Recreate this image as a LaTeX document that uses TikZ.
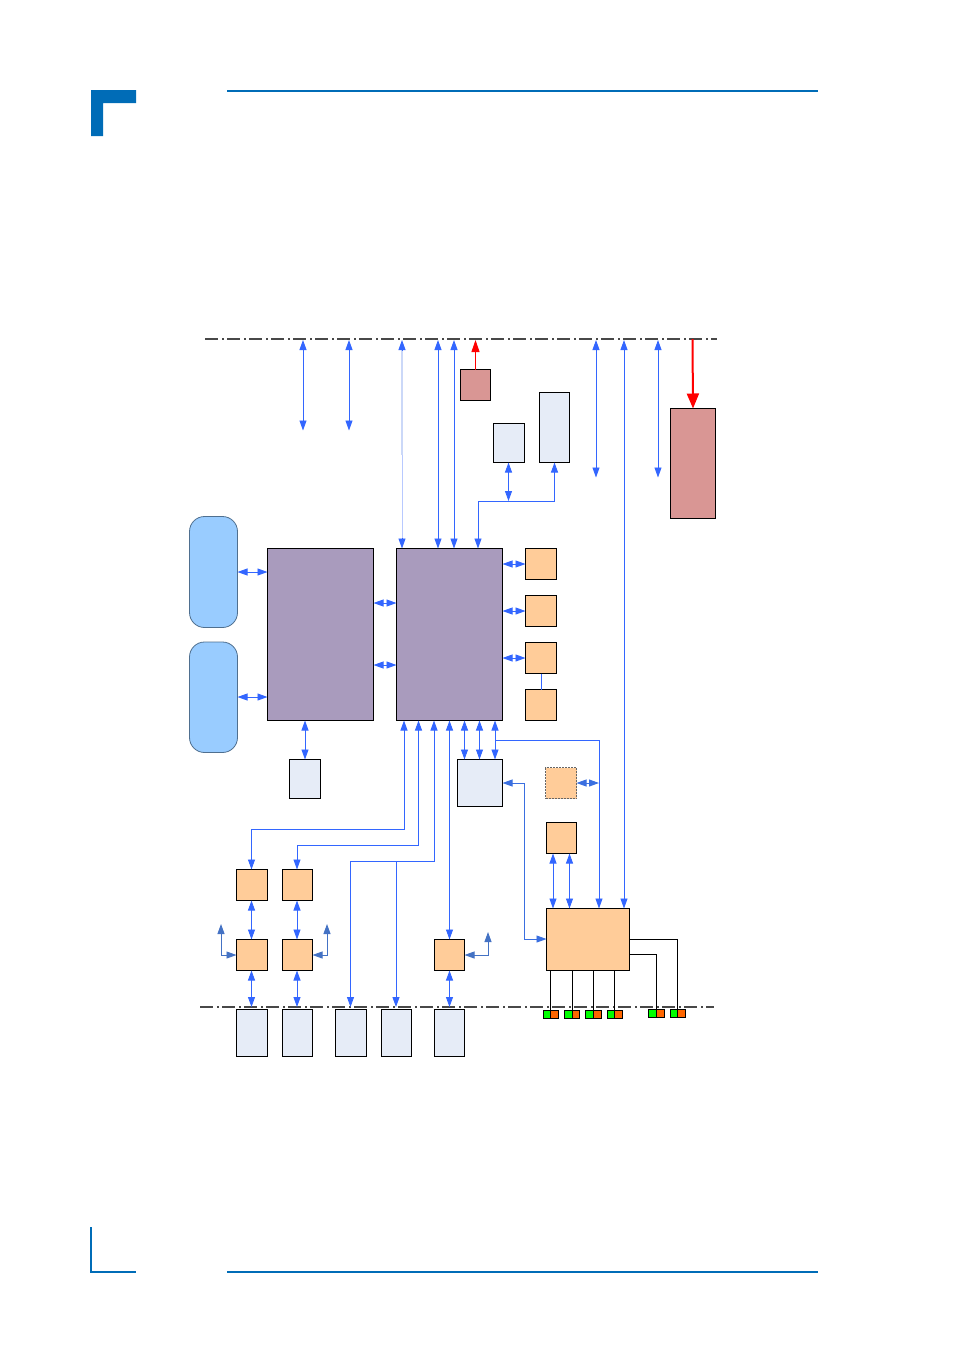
\documentclass[tikz,border=0pt]{standalone}
\usetikzlibrary{arrows.meta,calc}
\definecolor{brand}{HTML}{006CB7}
\definecolor{wire}{HTML}{3366FF}
\definecolor{stub}{HTML}{4472C4}
\definecolor{wireb}{HTML}{3A6FE0}
\definecolor{purp}{HTML}{A99BBD}
\definecolor{oran}{HTML}{FFCC99}
\definecolor{pale}{HTML}{E6ECF7}
\definecolor{rose}{HTML}{D99694}
\definecolor{sky}{HTML}{99CCFF}
\definecolor{skyedge}{HTML}{4F6F8F}
\definecolor{rail}{HTML}{484848}
\definecolor{ledg}{HTML}{00FF00}
\definecolor{ledo}{HTML}{FF6600}
\newcommand{\bx}[6]{\node[#2,minimum width={(#5-#3)*1pt},minimum height={(#6-#4)*1pt}] (#1) at ({(#3+#5)/2},{(#4+#6)/2}) {};}
\tikzset{
  x=1pt,y=-1pt,
  base/.style={draw=black,line width=0.9pt,inner sep=0pt,outer sep=0pt,rectangle},
  purplebox/.style={base,fill=purp},
  orangebox/.style={base,fill=oran},
  dashedbox/.style={inner sep=0pt,outer sep=0pt,rectangle,fill=oran,draw=black!60,line width=0.8pt,dash pattern=on 2pt off 1pt},
  palebox/.style={base,fill=pale},
  rosebox/.style={base,fill=rose},
  skybox/.style={inner sep=0pt,outer sep=0pt,rectangle,rounded corners=15pt,fill=sky,draw=skyedge,line width=0.8pt},
  greenled/.style={base,fill=ledg},
  orangeled/.style={base,fill=ledo},
  both/.style={draw=wire,line width=0.9pt,{Triangle[length=10pt,width=7pt]}-{Triangle[length=10pt,width=7pt]}},
  tohead/.style={draw=wire,line width=0.9pt,-{Triangle[length=10pt,width=7pt]}},
  plainwire/.style={draw=wire,line width=0.9pt},
  stubwire/.style={draw=stub,line width=0.9pt,{Triangle[length=10pt,width=7pt]}-{Triangle[length=10pt,width=7pt]}},
  softwire/.style={draw=wireb,line width=0.9pt,{Triangle[length=10pt,width=7pt]}-{Triangle[length=10pt,width=7pt]}},
  blackwire/.style={draw=black,line width=0.9pt},
  railline/.style={draw=rail,line width=1.5pt,dash pattern=on 13pt off 4pt on 1.5pt off 3.5pt},
}
\begin{document}
\begin{tikzpicture}
\useasboundingbox (0,0) rectangle (954,1350);
% page furniture
\fill[brand] (91,90) -- (136,90) -- (136,103) -- (103,103) -- (103,136) -- (91,136) -- cycle;
\fill[brand] (227,90) rectangle (818,92);
\fill[brand] (90,1227) rectangle (92,1273);
\fill[brand] (90,1271) rectangle (136,1273);
\fill[brand] (227,1271) rectangle (818,1273);
% rails
\coordinate (railTL) at (205,339); \coordinate (railTR) at (717,339);
\coordinate (railBL) at (200,1007); \coordinate (railBR) at (714,1007);
% boxes
\bx{rs}{rosebox}{460.5}{369.5}{490.5}{400.5}
\bx{rb}{rosebox}{670.5}{408.5}{715.5}{518.5}
\bx{e1}{palebox}{493.5}{423.5}{524}{462.5}
\bx{e2}{palebox}{539.5}{392.5}{569.5}{462.5}
\bx{sk1}{skybox}{189.5}{516.5}{237.5}{627.5}
\bx{sk2}{skybox}{189.5}{642}{237.5}{752.5}
\bx{cpu}{purplebox}{267.5}{548.5}{373.5}{720.5}
\bx{hub}{purplebox}{396.5}{548.5}{502.5}{720.5}
\bx{o1}{orangebox}{525.5}{548.5}{556.5}{579.5}
\bx{o2}{orangebox}{525.5}{595.5}{556.5}{626.5}
\bx{o3}{orangebox}{525.5}{642.5}{556.5}{673.5}
\bx{o4}{orangebox}{525.5}{689.5}{556.5}{720.5}
\bx{mem}{palebox}{289.5}{759.5}{320.5}{798.5}
\bx{sio}{palebox}{457.5}{759.5}{502.5}{806.5}
\bx{opt}{dashedbox}{545.5}{767.5}{576.5}{798.5}
\bx{o5}{orangebox}{546.5}{822.5}{576.5}{853.5}
\bx{big}{orangebox}{546.5}{908.5}{629.5}{970.5}
\bx{a1}{orangebox}{236.5}{869.5}{267.5}{900.5}
\bx{a2}{orangebox}{282.5}{869.5}{312.5}{900.5}
\bx{b1}{orangebox}{236.5}{939.5}{267.5}{970.5}
\bx{b2}{orangebox}{282.5}{939.5}{312.5}{970.5}
\bx{b3}{orangebox}{434.5}{939.5}{464.5}{970.5}
\bx{c1}{palebox}{236.5}{1009.5}{267.5}{1056.5}
\bx{c2}{palebox}{282.5}{1009.5}{312.5}{1056.5}
\bx{c3}{palebox}{335.5}{1009.5}{366.5}{1056.5}
\bx{c4}{palebox}{381.5}{1009.5}{411.5}{1056.5}
\bx{c5}{palebox}{434.5}{1009.5}{464.5}{1056.5}
% LEDs
\bx{g1}{greenled}{543.5}{1010.5}{550.5}{1018.5}
\bx{r1}{orangeled}{550.5}{1010.5}{558.5}{1018.5}
\bx{g2}{greenled}{564.5}{1010.5}{572.5}{1018.5}
\bx{r2}{orangeled}{572.5}{1010.5}{579.5}{1018.5}
\bx{g3}{greenled}{585.5}{1010.5}{593.5}{1018.5}
\bx{r3}{orangeled}{593.5}{1010.5}{601.5}{1018.5}
\bx{g4}{greenled}{607.5}{1010.5}{614.5}{1018.5}
\bx{r4}{orangeled}{614.5}{1010.5}{622.5}{1018.5}
\bx{g5}{greenled}{648.5}{1009.5}{656.5}{1017.5}
\bx{r5}{orangeled}{656.5}{1009.5}{664.5}{1017.5}
\bx{g6}{greenled}{670.5}{1009.5}{677.5}{1017.5}
\bx{r6}{orangeled}{677.5}{1009.5}{685.5}{1017.5}
% rails
\draw[railline] (railTL) -- (railTR);
\draw[railline] (railBL) -- (railBR);
% coordinates on the top rail and free ends
\foreach \n/\xx in {p303/303,p349/349,p402/402,p438/438,p454/454,p596/596,p624/624,p658/658}{\coordinate (\n) at (\xx,340);}
\coordinate (f303) at (303,430.5); \coordinate (f349) at (349,430.5);
\coordinate (f596) at (596,477.5); \coordinate (f658) at (658,477.5);
\coordinate (p475) at (475.5,340); \coordinate (p692) at (692.5,339);
\coordinate (mid402) at (402,455);
\coordinate (up402) at (402,350);
\coordinate (low402) at (402,538);
% top connectors
\draw[both] (p303) -- (f303);
\draw[both] (p349) -- (f349);
\draw[draw=pale!85!wire,line width=1.6pt] (up402) -- (mid402);
\draw[draw=wire!35,line width=0.9pt] (mid402) -- (low402);
\draw[tohead] (up402) -- (p402);
\draw[tohead] (low402) -- (hub.north -| p402);
\draw[both] (p438) -- (hub.north -| p438);
\draw[both] (p454) -- (hub.north -| p454);
\draw[both] (p596) -- (f596);
\draw[both] (p658) -- (f658);
\draw[both] (p624) -- (big.north -| p624);
\draw[red,line width=1pt,-{Triangle[length=12pt,width=8pt]}] (rs.north) -- (p475);
\draw[red,line width=2pt,-{Triangle[length=15pt,width=12pt]}] (p692) -- (rb.north);
% bus above hub
\coordinate (j1) at (508.5,501);
\draw[both] (e1.south -| j1) -- (j1);
\draw[plainwire,{Triangle[length=10pt,width=7pt]}-{Triangle[length=10pt,width=7pt]}] (e2.south -| 554.5,0) -- (554.5,501) -- (478,501) -- (hub.north -| 478,0);
% side links
\draw[both] (sk1.east |- 0,572) -- (cpu.west |- 0,572);
\draw[both] (sk2.east |- 0,697) -- (cpu.west |- 0,697);
\draw[both] (cpu.east |- 0,603) -- (hub.west |- 0,603);
\draw[both] (cpu.east |- 0,665) -- (hub.west |- 0,665);
\draw[both] (hub.east |- o1.west) -- (o1.west);
\draw[both] (hub.east |- o2.west) -- (o2.west);
\draw[both] (hub.east |- o3.west) -- (o3.west);
\draw[wire,line width=0.9pt] (o3.south) -- (o4.north);
\draw[both] (cpu.south -| mem.north) -- (mem.north);
% hub down
\draw[both] (hub.south -| 404,0) -- (404,829) -- (251.5,829) -- (a1.north -| 251.5,0);
\draw[both] (hub.south -| 418.5,0) -- (418.5,845) -- (297,845) -- (a2.north -| 297,0);
\draw[both] (hub.south -| 434,0) -- (434,861) -- (350.5,861) -- (350.5,1007);
\coordinate (j2) at (396,861);
\draw[tohead] (j2) -- (396,1007);
\draw[both] (hub.south -| b3.north) -- (b3.north);
\draw[both] (hub.south -| 464.5,0) -- (sio.north -| 464.5,0);
\draw[both] (hub.south -| 479.5,0) -- (sio.north -| 479.5,0);
\draw[both] (hub.south -| 495,0) -- (sio.north -| 495,0);
\coordinate (j3) at (495,740);
\draw[tohead] (j3) -- (599,740) -- (big.north -| 599,0);
\coordinate (j4) at (599,783);
\draw[softwire] (opt.east) -- (j4);
\draw[softwire] (sio.east |- 0,783) -- (524.5,783) -- (524.5,939) -- (big.west |- 0,939);
\draw[both] (o5.south -| 553,0) -- (big.north -| 553,0);
\draw[both] (o5.south -| 569.5,0) -- (big.north -| 569.5,0);
% lower column
\draw[both] (a1.south -| 251.5,0) -- (b1.north -| 251.5,0);
\draw[both] (a2.south -| 297,0) -- (b2.north -| 297,0);
\draw[both] (b1.south -| 251.5,0) -- (251.5,1007);
\draw[both] (b2.south -| 297,0) -- (297,1007);
\draw[both] (b3.south) -- (449.5,1007);
% stubs
\coordinate (s1) at (221,924); \coordinate (s2) at (327,924); \coordinate (s3) at (488,932);
\draw[stubwire] (s1) -- (s1 |- b1.west) -- (b1.west);
\draw[stubwire] (s2) -- (s2 |- b2.east) -- (b2.east);
\draw[stubwire] (s3) -- (s3 |- b3.east) -- (b3.east);
% black wires to LEDs
\draw[blackwire] (big.south -| 550.5,0) -- (g1.north east);
\draw[blackwire] (big.south -| 572.5,0) -- (g2.north east);
\draw[blackwire] (big.south -| 593.5,0) -- (g3.north east);
\draw[blackwire] (big.south -| 614.5,0) -- (g4.north east);
\draw[blackwire] (big.east |- 0,954) -- (656.5,954) -- (g5.north east);
\draw[blackwire] (big.east |- 0,939) -- (677.5,939) -- (g6.north east);
\end{tikzpicture}
\end{document}
